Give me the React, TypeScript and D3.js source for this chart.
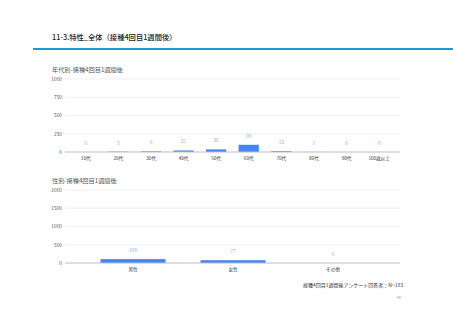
import React from 'react';
import * as d3 from 'd3';

const ageCategories = ['10代', '20代', '30代', '40代', '50代', '60代', '70代', '80代', '90代', '100歳以上'];
const ageValues = [0, 5, 9, 21, 36, 99, 12, 1, 0, 0];
const ageTicks = [0, 250, 500, 750, 1000];

const sexCategories = ['男性', '女性', 'その他'];
const sexValues = [106, 77, 0];
const sexTicks = [0, 500, 1000, 1500, 2000];

const FONT = '"Noto Sans CJK JP", "Noto Sans", sans-serif';
const BAR = '#4285f4';
const LABEL = '#8ab4f8';

type PanelProps = {
  title: string;
  categories: string[];
  values: number[];
  ticks: number[];
  top: number;
  x0: number;
  x1: number;
  padding: number;
};

function Panel({ title, categories, values, ticks, top, x0, x1, padding }: PanelProps) {
  const yTop = top + 9;
  const yBottom = top + 82;
  const y = d3.scaleLinear().domain([0, ticks[ticks.length - 1]]).range([yBottom, yTop]);
  const x = d3.scaleBand<string>().domain(categories).range([x0, x1])
    .paddingInner(padding).paddingOuter(padding / 2);
  return (
    <g>
      <text x={52} y={top + 2} fontSize={6.2} fill="#555">{title}</text>
      {ticks.map(t => (
        <g key={t}>
          {t > 0 && <line x1={65} x2={400} y1={y(t)} y2={y(t)} stroke="#e6e6e6" strokeWidth={0.6} />}
          <text x={62} y={y(t) + 1.8} fontSize={4.8} fill="#555" textAnchor="end">{t}</text>
        </g>
      ))}
      {categories.map((c, i) => (
        <g key={c}>
          <rect
            x={x(c)}
            y={y(values[i])}
            width={x.bandwidth()}
            height={yBottom - y(values[i])}
            fill={BAR}
          />
          <text
            x={(x(c) as number) + x.bandwidth() / 2}
            y={y(values[i]) - 7}
            fontSize={5}
            fill={LABEL}
            textAnchor="middle"
          >{values[i]}</text>
          <text
            x={(x(c) as number) + x.bandwidth() / 2}
            y={yBottom + 7.5}
            fontSize={4.6}
            fill="#333"
            textAnchor="middle"
          >{c}</text>
        </g>
      ))}
      <line x1={65} x2={400} y1={yBottom} y2={yBottom} stroke="#bdbdbd" strokeWidth={1} />
    </g>
  );
}

export default function App() {
  return (
    <svg
      width={453}
      height={320}
      style={{ position: 'absolute', left: 0, top: 0, background: '#fff', fontFamily: FONT }}
    >
      <text x={52} y={39.5} fontSize={7.3} fontWeight={500} fill="#222">11-3.特性_全体（接種4回目1週間後）</text>
      <line x1={33} x2={453} y1={49} y2={49} stroke="#1a9bd7" strokeWidth={2} />
      <Panel
        title="年代別-接種4回目1週間後"
        categories={ageCategories}
        values={ageValues}
        ticks={ageTicks}
        top={70}
        x0={69.4}
        x1={395.4}
        padding={0.38}
      />
      <Panel
        title="性別-接種4回目1週間後"
        categories={sexCategories}
        values={sexValues}
        ticks={sexTicks}
        top={181}
        x0={83}
        x1={383}
        padding={0.35}
      />
      <text x={303} y={287} fontSize={5} fill="#333">接種4回目1週間後アンケート回答者：N=183</text>
      <text x={397} y={299} fontSize={3.5} fill="#999">95</text>
    </svg>
  );
}
